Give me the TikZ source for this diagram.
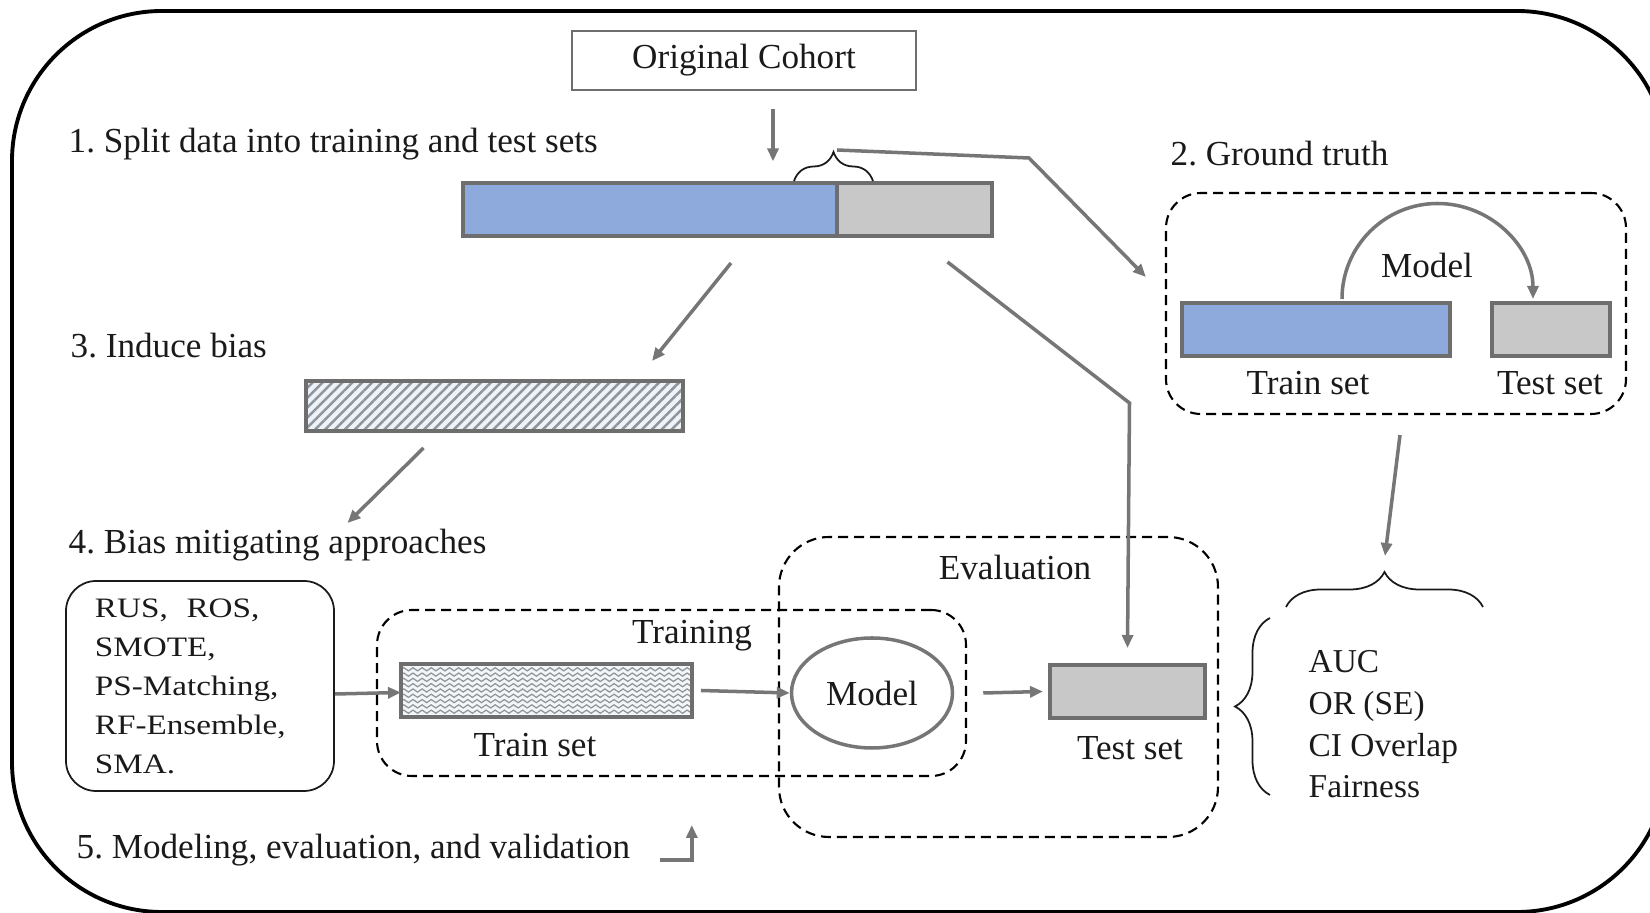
\documentclass[tikz,border=0pt]{standalone}
\usepackage{fontspec}
\setmainfont{Liberation Serif}
\newfontfamily\widefont{Liberation Serif}[FakeStretch=1.18]
\usetikzlibrary{positioning,shapes.geometric,arrows.meta,decorations.pathreplacing,decorations.pathmorphing,patterns.meta}
\definecolor{ink}{HTML}{1A1A1A}
\definecolor{trainblue}{HTML}{8EA9DB}
\definecolor{testgray}{HTML}{C8C8C8}
\definecolor{barline}{HTML}{6E6E6E}
\definecolor{arrgray}{HTML}{767676}
\definecolor{hatchbg}{HTML}{EEF3F8}
\definecolor{hatchline}{HTML}{8E959C}
\definecolor{wavebg}{HTML}{F2F6F8}
\definecolor{wavegray}{HTML}{8F9499}
\frenchspacing
\begin{document}
\begin{tikzpicture}[font=\fontsize{10}{12}\selectfont, text=ink,
    lbl/.style={inner sep=0pt},
    bar/.style={draw=barline, line width=0.9pt, minimum height=0.53cm, inner sep=0pt, outer sep=0pt, anchor=north west},
    arr/.style={draw=arrgray, line width=1pt, -{Triangle[length=1.3mm,width=1.1mm]}},
    dashbox/.style={draw=black, line width=0.6pt, dash pattern=on 1mm off 0.6mm, rounded corners=0.35cm, inner sep=0pt},
    curly/.style={decorate, decoration={brace, amplitude=#1}, draw=ink, line width=0.5pt},
    wave/.style={draw=wavegray, line width=0.35pt, decorate, decoration={snake, amplitude=0.45pt, segment length=2.6pt}}]
\useasboundingbox (0,0) rectangle (16.5,-9.13);
\clip (0,0) rectangle (16.5,-9.13);
\draw[line width=1.1pt, rounded corners=1.5cm] (0.12,-0.11) rectangle (16.67,-9.12);

% step labels
\node[lbl, anchor=west] (step1) at (0.68,-1.44) {1. Split data into training and test sets};
\node[lbl, anchor=west] (step2) at (11.70,-1.54) {2. Ground truth};
\node[lbl, anchor=west] (step3) at (0.70,-3.46) {3. Induce bias};
\node[lbl, anchor=west] (step4) at (0.68,-5.45) {4. Bias mitigating approaches};
\node[lbl, anchor=west] (step5) at (0.76,-8.50) {5. Modeling, evaluation, and validation};

% cohort and split
\node[draw=barline, line width=0.8pt, minimum width=3.44cm, minimum height=0.59cm] (cohort) at (7.44,-0.605) {Original Cohort};
\node[bar, fill=trainblue, minimum width=3.74cm] (split-train) at (4.63,-1.83) {};
\node[bar, fill=testgray, minimum width=1.55cm] (split-test) at (split-train.north east) {};
\coordinate (split-brace) at ([yshift=0.33cm]split-train.north east);
\draw[curly=0.29cm] ([xshift=-0.43cm,yshift=0.02cm]split-train.north east) -- ([xshift=0.36cm,yshift=0.02cm]split-train.north east);

% ground truth
\node[dashbox, minimum width=4.60cm, minimum height=2.21cm] (gtbox) at (13.96,-3.035) {};
\node[bar, fill=trainblue, minimum width=2.68cm] (gt-train) at (11.82,-3.03) {};
\node[bar, fill=testgray, minimum width=1.18cm, right=0.42cm of gt-train] (gt-test) {};
\node[lbl] (gt-train-lbl) at (13.08,-3.83) {Train set};
\node[lbl] (gt-test-lbl) at (15.50,-3.83) {Test set};
\node[lbl] (gt-model-lbl) at (14.27,-2.65) {Model};
\draw[arr] ([xshift=0.26cm,yshift=0.04cm]gt-train.north) arc[start angle=180, end angle=0, radius=0.955cm];

% metrics
\coordinate (metric-tip) at (13.85,-5.70);
\draw[curly=0.35cm] (12.86,-6.07) -- (14.83,-6.07);
\draw[curly=0.35cm] (12.70,-7.95) -- (12.70,-6.18);
\node[lbl, anchor=west, align=left, font=\fontsize{9.5}{11.85}\selectfont] (metrics) at (13.08,-7.245) {AUC\\OR (SE)\\CI Overlap\\Fairness};

% induce bias
\node[bar, minimum width=3.77cm, minimum height=0.50cm, preaction={fill=hatchbg},
    pattern={Lines[angle=45,distance=0.07cm,line width=0.025cm]}, pattern color=hatchline] (hatch) at (3.06,-3.81) {};

% training and evaluation
\node[dashbox, rounded corners=0.5cm, minimum width=4.39cm, minimum height=3.00cm] (evalbox) at (9.985,-6.87) {};
\node[lbl] (eval-lbl) at (10.15,-5.67) {Evaluation};
\node[dashbox, minimum width=5.89cm, minimum height=1.66cm] (trainbox) at (6.715,-6.93) {};
\node[lbl] (train-lbl) at (6.92,-6.36) {Training};
\node[draw=ink, line width=0.5pt, rounded corners=0.3cm, minimum width=2.68cm, minimum height=2.10cm,
    text width=2.10cm, inner xsep=0.29cm, align=left, font=\widefont\fontsize{8}{11.1}\selectfont] (methods) at (2.00,-6.86)
    {RUS,~ ROS,\\SMOTE,\\PS-Matching,\\RF-Ensemble,\\SMA.};
\node[bar, fill=wavebg, minimum width=2.91cm, path picture={
    \foreach \k in {1,...,9}
      \draw[wave] ([yshift=-\k*0.053cm]path picture bounding box.north west) -- ++(3,0);
    }] (trainbar) at (4.01,-6.64) {};
\node[lbl] (trainbar-lbl) at (5.35,-7.45) {Train set};
\node[ellipse, draw=arrgray, line width=1pt, minimum width=1.61cm, minimum height=1.10cm, inner sep=0pt] (model) at (8.72,-6.93) {Model};
\node[bar, fill=testgray, minimum width=1.55cm] (evtest) at (10.50,-6.65) {};
\node[lbl] (evtest-lbl) at (11.30,-7.48) {Test set};

% arrows
\draw[arr] ([xshift=0.29cm,yshift=-0.18cm]cohort.south) -- ++(0,-0.52);
\draw[arr] (split-brace) -- ++(1.92,-0.08) -- ([xshift=-0.19cm,yshift=0.265cm]gtbox.west);
\draw[arr] ([xshift=0.81cm,yshift=-0.27cm]split-train.south) -- ([xshift=-0.31cm,yshift=0.20cm]hatch.north east);
\draw[arr] ([xshift=0.33cm,yshift=-0.26cm]split-test.south) -- ++(1.82,-1.41) -- ([yshift=0.17cm]evtest.north);
\draw[arr] ([xshift=-0.71cm,yshift=-0.17cm]hatch.south) -- ++(-0.76,-0.75);
\draw[arr] ([xshift=0.04cm,yshift=-0.2cm]gtbox.south) -- ([yshift=0.14cm]metric-tip);
\draw[arr] ([yshift=-0.08cm]methods.east) -- ([yshift=-0.02cm]trainbar.west);
\draw[arr] ([xshift=0.09cm]trainbar.east) -- (model.west);
\draw[arr] ([xshift=0.29cm]model.east) -- ([xshift=-0.07cm]evtest.west);
\draw[arr] ([xshift=0.29cm,yshift=-0.1cm]step5.east) -- ++(0.32,0) -- ++(0,0.35);
\end{tikzpicture}
\end{document}
